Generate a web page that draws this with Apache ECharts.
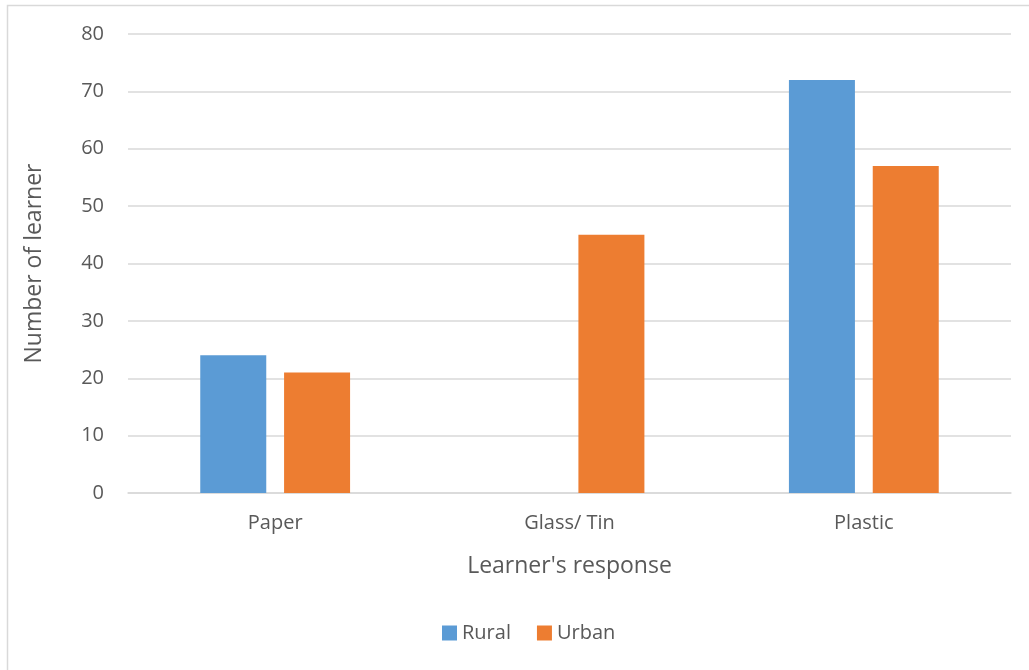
<!DOCTYPE html>
<html>
<head>
<meta charset="utf-8">
<script src="https://cdn.jsdelivr.net/npm/echarts@6/dist/echarts.min.js"></script>
<style>html,body{margin:0;padding:0;background:#fff;}#c{width:1029px;height:670px;}</style>
</head>
<body>
<div id="c"></div>
<script>
var categories = ['Paper', 'Glass/ Tin', 'Plastic'];
var rural = [24, 0, 72];
var urban = [21, 45, 57];
var seriesNames = ['Rural', 'Urban'];
var yTicks = [0, 10, 20, 30, 40, 50, 60, 70, 80];

var font = '"Open Sans", "Liberation Sans", sans-serif';
var chart = echarts.init(document.getElementById('c'), null, {renderer: 'canvas'});
chart.setOption({
  animation: false,
  graphic: [{
    type: 'rect', silent: true,
    shape: {x: 7.5, y: 5.5, width: 1200, height: 900},
    style: {fill: 'none', stroke: '#d9d9d9', lineWidth: 1.5}
  }],
  grid: {left: 128, right: 18, top: 34, bottom: 177},
  legend: {
    data: seriesNames, bottom: 22, left: 437,
    itemWidth: 15, itemHeight: 15, itemGap: 26,
    icon: 'rect',
    textStyle: {fontFamily: font, fontSize: 20, color: '#595959'}
  },
  xAxis: {
    type: 'category', data: categories,
    name: "Learner's response", nameLocation: 'middle', nameGap: 62,
    nameTextStyle: {fontFamily: font, fontSize: 23, color: '#595959'},
    axisLine: {show: true, lineStyle: {color: '#d9d9d9', width: 1.5}},
    axisTick: {show: false},
    axisLabel: {fontFamily: font, fontSize: 20, color: '#595959', margin: 20}
  },
  yAxis: {
    type: 'value', min: 0, max: 80, interval: 10,
    name: 'Number of learner', nameLocation: 'middle', nameGap: 82, nameRotate: 90,
    nameTextStyle: {fontFamily: font, fontSize: 23, color: '#595959'},
    axisLine: {show: false}, axisTick: {show: false},
    axisLabel: {fontFamily: font, fontSize: 20, color: '#595959', margin: 24,
      formatter: function (v) { return yTicks.indexOf(v) >= 0 ? String(v) : ''; }},
    splitLine: {lineStyle: {color: '#d9d9d9', width: 1.5}}
  },
  series: [
    {name: seriesNames[0], type: 'bar', data: rural, barWidth: 66, barGap: '27%',
     itemStyle: {color: '#5b9bd5'}},
    {name: seriesNames[1], type: 'bar', data: urban, barWidth: 66,
     itemStyle: {color: '#ed7d31'}}
  ]
});
</script>
</body>
</html>
